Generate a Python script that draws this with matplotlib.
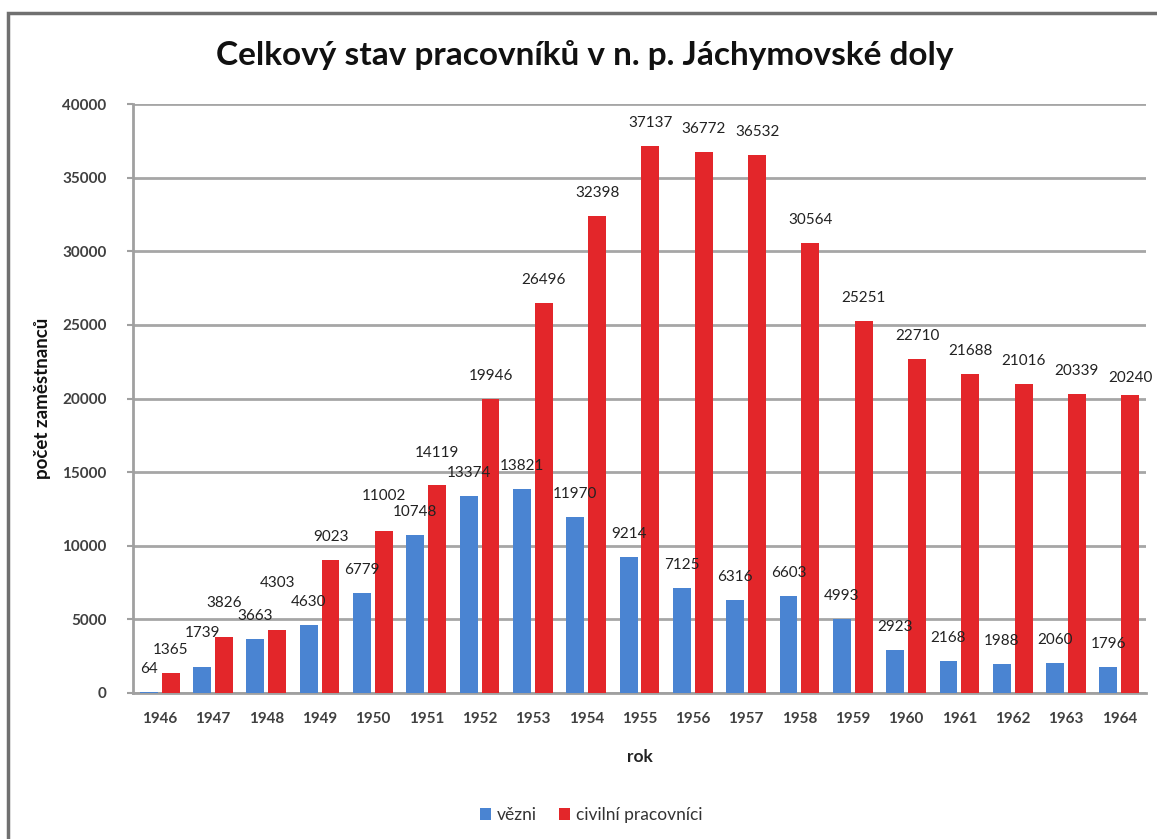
import matplotlib
matplotlib.use("Agg")
import matplotlib.pyplot as plt
from matplotlib.patches import Rectangle
import numpy as np

years = ["1946", "1947", "1948", "1949", "1950", "1951", "1952", "1953", "1954", "1955",
         "1956", "1957", "1958", "1959", "1960", "1961", "1962", "1963", "1964"]
vezni = [64, 1739, 3663, 4630, 6779, 10748, 13374, 13821, 11970, 9214,
         7125, 6316, 6603, 4993, 2923, 2168, 1988, 2060, 1796]
civilni = [1365, 3826, 4303, 9023, 11002, 14119, 19946, 26496, 32398, 37137,
           36772, 36532, 30564, 25251, 22710, 21688, 21016, 20339, 20240]
series_names = ["vězni", "civilní pracovníci"]
yticks = [0, 5000, 10000, 15000, 20000, 25000, 30000, 35000, 40000]

title = "Celkový stav pracovníků v n. p. Jáchymovské doly"
xlabel = "rok"
ylabel = "počet zaměstnanců"

# label nudges (extra pixels upward) for a few hand-placed labels
nudge_px = {("v", "1947"): 11, ("c", "1947"): 11, ("c", "1948"): 24,
            ("c", "1950"): 12, ("c", "1951"): 9, ("c", "1964"): -6}

BLUE = "#4a84d2"
RED = "#e3262a"

plt.rcParams['font.family'] = ['Lato', 'DejaVu Sans']

fig = plt.figure(figsize=(11.57, 8.39), dpi=100)
W, H = 1157, 839
ax = fig.add_axes([133 / W, 1 - 693 / H, (1146 - 133) / W, (693 - 104) / H])

x = np.arange(len(years))
bw = 0.335
off = 0.205
bars_v = ax.bar(x - off, vezni, bw, color=BLUE, zorder=3, label=series_names[0])
bars_c = ax.bar(x + off, civilni, bw, color=RED, zorder=3, label=series_names[1])

px2pt = 72 / 100
for key, bars, vals in (("v", bars_v, vezni), ("c", bars_c, civilni)):
    for i, (b, v) in enumerate(zip(bars, vals)):
        dy = 23 + nudge_px.get((key, years[i]), 0)
        ax.annotate(str(v), (b.get_x() + b.get_width() / 2, v),
                    xytext=(0, dy * px2pt), textcoords="offset points",
                    ha="center", va="center", fontsize=11, color="#222222", zorder=5)

ax.set_xlim(-0.5, len(years) - 0.5)
ax.set_ylim(0, 40000)
ax.set_yticks(yticks)
ax.set_yticklabels([str(t) for t in yticks])
ax.set_xticks(x)
ax.set_xticklabels(years)
ax.tick_params(axis="both", labelsize=11, colors="#a0a0a0", length=4, width=1.5)
ax.tick_params(axis="x", length=0, pad=14)
ax.tick_params(axis="y", pad=15)
for lab in ax.get_xticklabels() + ax.get_yticklabels():
    lab.set_fontweight("bold")
    lab.set_color("#404040")

ax.grid(axis="y", color="#a6a6a6", linewidth=2, zorder=0)
for s in ("top", "right"):
    ax.spines[s].set_visible(False)
for s in ("left", "bottom"):
    ax.spines[s].set_color("#a0a0a0")
    ax.spines[s].set_linewidth(2)

ax.set_xlabel(xlabel, fontsize=12.5, fontweight="bold", color="#222222", labelpad=16)
ax.set_ylabel(ylabel, fontsize=13.5, fontweight="bold", color="#111111", labelpad=8)

fig.text(585 / W, 1 - 55 / H, title, ha="center", va="center",
         fontsize=24, fontweight="bold", color="#111111")

leg = fig.legend(handles=[bars_v, bars_c], labels=series_names, loc="center",
                 bbox_to_anchor=(591 / W, 1 - 815 / H), ncol=2, frameon=False,
                 fontsize=12.5, handlelength=0.65, handleheight=0.65, handletextpad=0.3,
                 columnspacing=1.3)
for t in leg.get_texts():
    t.set_color("#333333")

# outer chart frame (cropped on the right and bottom)
fig.patches.append(Rectangle((8 / W, -0.05), 1.2, (1 - 13 / H) + 0.05,
                             transform=fig.transFigure, fill=False,
                             edgecolor="#707070", linewidth=2.5, zorder=0))

fig.savefig("out.png", dpi=100)
